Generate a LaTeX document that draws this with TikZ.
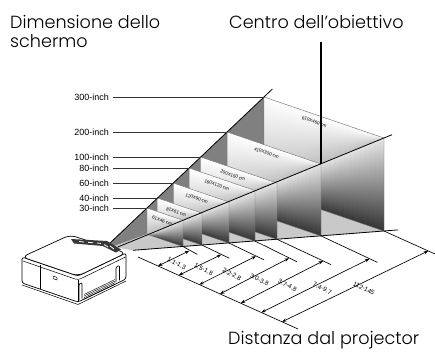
\documentclass[tikz,border=0pt]{standalone}
\usepackage{fontspec}
\setmainfont{Liberation Sans}
\newfontfamily\titlefont{Poppins Light}
\usetikzlibrary{arrows.meta,calc}

\tikzset{
  headline/.style={font=\titlefont\fontsize{17.6}{19}\selectfont, inner sep=0pt, anchor=base west},
  sizelabel/.style={font=\fontsize{9}{10}\selectfont, inner sep=0pt, anchor=east},
  inchline/.style={draw=black!80, line width=0.75pt},
  facelabel/.style={font=\fontsize{4.6}{5}\selectfont, inner sep=0pt, rotate=-18.9},
  faceedge/.style={draw=black!55, line width=0.45pt},
  conewall/.style={fill=black!50},
  conefloor/.style={fill=black!21},
  ray/.style={draw=black, line width=0.8pt},
  pointer/.style={draw=black, line width=1.3pt},
  extline/.style={draw=black, line width=0.65pt},
  distarrow/.style={draw=black, line width=0.65pt,
    {Stealth[length=4.5pt,width=3.2pt]}-{Stealth[length=4.5pt,width=3.2pt]}},
  distlabel/.style={font=\fontsize{6.4}{7}\selectfont, inner sep=0pt, rotate=-27},
  body/.style={draw=black, fill=white, line width=0.7pt, line join=round},
  thinline/.style={draw=black, line width=0.5pt},
}

% One screen of the light cone: #1 left x, #2 top y, #3 right x, #4 height,
% #5 size text, #6 name.  The face is split by the cone edge that runs
% through the top right corners; each part gets its own column shading.
\newcommand\screenface[6]{%
  \pgfmathsetmacro\sW{#3-#1}%
  \pgfmathsetmacro\sTR{#2+0.342*\sW}%
  \coordinate (#6-tl) at (#1,#2);
  \coordinate (#6-tr) at (#3,\sTR);
  \coordinate (#6-br) at (#3,{\sTR+#4});
  \coordinate (#6-bl) at (#1,{#2+#4});
  \foreach \j in {0,...,23}{%
    \pgfmathsetmacro\sxa{#1+\sW*\j/24}%
    \pgfmathsetmacro\sxb{min(#1+\sW*(\j+1)/24+0.5,#3)}%
    \pgfmathsetmacro\sta{#2+0.342*(\sxa-#1)}%
    \pgfmathsetmacro\stb{#2+0.342*(\sxb-#1)}%
    \pgfmathsetmacro\sba{\sta+#4}%
    \pgfmathsetmacro\sbb{\stb+#4}%
    \pgfmathsetmacro\sda{max(min(220.3-0.4095*(\sxa-183),\sba),\sta)}%
    \pgfmathsetmacro\sdb{max(min(220.3-0.4095*(\sxb-183),\sbb),\stb)}%
    \shade[top color=white,bottom color=black!26]
      (\sxa,\sta) -- (\sxb,\stb) -- (\sxb,\sdb) -- (\sxa,\sda) -- cycle;
    \shade[top color=black!10,bottom color=black!80]
      (\sxa,\sda) -- (\sxb,\sdb) -- (\sxb,\sbb) -- (\sxa,\sba) -- cycle;
  }
  \draw[faceedge] (#6-tl) -- (#6-tr) -- (#6-br) -- (#6-bl) -- cycle;
  \node[facelabel] (#6-lab) at ({#1+0.42*\sW},{#2+0.342*0.42*\sW+7.5}) {#5};
}

\begin{document}
\begin{tikzpicture}[x=1pt,y=-1pt]
\useasboundingbox (0,0) rectangle (435,353);
\fill[white] (0,0) rectangle (435,353);

% cone apex region and far corners
\coordinate (apexL) at (109,244);
\coordinate (apexR) at (118,246.9);
\coordinate (apexB) at (112,247);
\coordinate (apexF) at (133,250.3);
\coordinate (farTL) at (264,97);
\coordinate (farBL) at (264,190);
\coordinate (farBR) at (384,231);
\coordinate (nearBL) at (147,234.2);

% side wall and floor of the cone
\fill[conewall] (apexL) -- (farTL) -- (farBL) -- (nearBL) -- (apexB) -- cycle;
\fill[conefloor] (apexB) -- (nearBL) -- (farBL) -- (farBR) -- (apexF) -- cycle;

% screens, far to near
\screenface{264}{97}{384}{93}{610X460 cm}{s300}
\screenface{227.1}{132}{321}{71.8}{410X300 cm}{s200}
\screenface{200.7}{157}{277}{56.2}{200X150 cm}{s100}
\screenface{189.1}{168}{255}{50.5}{160X120 cm}{s80}
\screenface{173.3}{183}{229}{41}{120X90 cm}{s60}
\screenface{157.5}{198}{202}{31.9}{81X61 cm}{s40}
\screenface{147}{208}{183}{26.2}{61X46 cm}{s30}

% cone edges
\coordinate (rayTL) at (272.4,89);
\coordinate (rayTR) at (392,134.7);
\coordinate (rayBR) at (398,229.9);
\draw[ray] (apexL) -- (rayTL);
\draw[ray] (apexR) -- (rayTR);
\draw[ray] (apexF) -- (rayBR);

% diagonal sizes
\node[sizelabel] (i300) at (109,97) {300-inch};
\node[sizelabel] (i200) at (109,132) {200-inch};
\node[sizelabel] (i100) at (109,157) {100-inch};
\node[sizelabel] (i80) at (109,168) {80-inch};
\node[sizelabel] (i60) at (109,183) {60-inch};
\node[sizelabel] (i40) at (109,198) {40-inch};
\node[sizelabel] (i30) at (109,208) {30-inch};
\foreach \s in {300,200,100,80,60,40,30}{
  \draw[inchline] ([xshift=4pt]i\s.east) -- (s\s-tl);
}

% projection distances
\coordinate (base0) at (138,257);
\coordinate (base1) at (298,329);
\draw[extline] (base0) -- (base1);
\coordinate (L0) at (158,266);     \coordinate (R0) at (189.3,250.8);
\coordinate (L1) at (178.7,275.3); \coordinate (R1) at (221.3,254.6);
\coordinate (L2) at (199.3,284.6); \coordinate (R2) at (256,256.2);
\coordinate (L3) at (220,293.9);   \coordinate (R3) at (289,258.2);
\coordinate (L4) at (240.7,303.2); \coordinate (R4) at (323,261);
\coordinate (L5) at (261.3,312.5); \coordinate (R5) at (369.5,258.8);
\coordinate (L6) at (282,321.8);   \coordinate (R6) at (428.2,250.9);
\foreach \k/\s/\t in {0/30/1.1-1.3, 1/40/1.5-1.8, 2/60/2.2-2.8, 3/80/3.0-3.8,
                      4/100/3.7-4.8, 5/200/7.4-9.7, 6/300/112-145}{
  \coordinate (E\k) at ($(R\k)+(8,3.6)$);
  \draw[extline] (s\s-br) -- (E\k);
  \draw[distarrow] (L\k) -- (R\k);
  \node[distlabel] (d\k) at ($(L\k)!0.55!(R\k)+(1.5,5.5)$) {\t};
}

% projector
\begin{scope}[line join=round]
  \draw[body, rounded corners=2.5pt]
    (22,257) -- (78,276) -- (126,253) -- (126,279) -- (78,302) -- (22,283) -- cycle;
  \draw[thinline] (22,285) -- (78,304.5) -- (126,281);
  \draw[body, rounded corners=6pt] (22,257) -- (70,235) -- (126,253) -- (78,276) -- cycle;
  \draw[thinline, rounded corners=3pt] (23,261) -- (78,280) -- (125.5,257);
  \draw[thinline] (78,280) -- (78,302);
  \draw[thinline] (40,265) -- (40,289);
  \draw[thinline, rounded corners=0.6pt] (53,276) -- (57,277.4) -- (57,280) -- (53,278.6) -- cycle;
  \fill[black!78] (71,239) -- (107,241) -- (121,249.5) -- (116,252.5) -- (103,246) -- (74,243.5) -- cycle;
  \foreach \a/\b in {{(79,241.5)}/{(84,242)}, {(88,242.3)}/{(93,242.8)}, {(97,243)}/{(101,243.4)},
                     {(104,244.5)}/{(108,247)}, {(110,246)}/{(114,249)}}{
    \draw[white, line width=0.8pt] \a -- \b;
  }
  \draw[body, rounded corners=1.2pt] (79,300) -- (79,284) -- (82,282.6) -- (82,298.6);
  \draw[body, rounded corners=1.2pt] (116,282) -- (116,267) -- (119.5,265.3) -- (119.5,280.3);
  \foreach \v in {0,1.6,3.2,4.8}{
    \draw[line width=0.4pt] (84,{294.5+\v}) -- (115,{279.5+\v});
  }
\end{scope}

% headings
\node[headline] (hsize) at (10,29) {Dimensione dello};
\node[headline] (hsize2) at (10,48) {schermo};
\node[headline] (hlens) at (229,29) {Centro dell’obiettivo};
\node[headline] (hdist) at (228,344) {Distanza dal projector};
\coordinate (ptrtop) at (321,42);
\draw[pointer] (ptrtop) -- (s200-tr);
\end{tikzpicture}
\end{document}
